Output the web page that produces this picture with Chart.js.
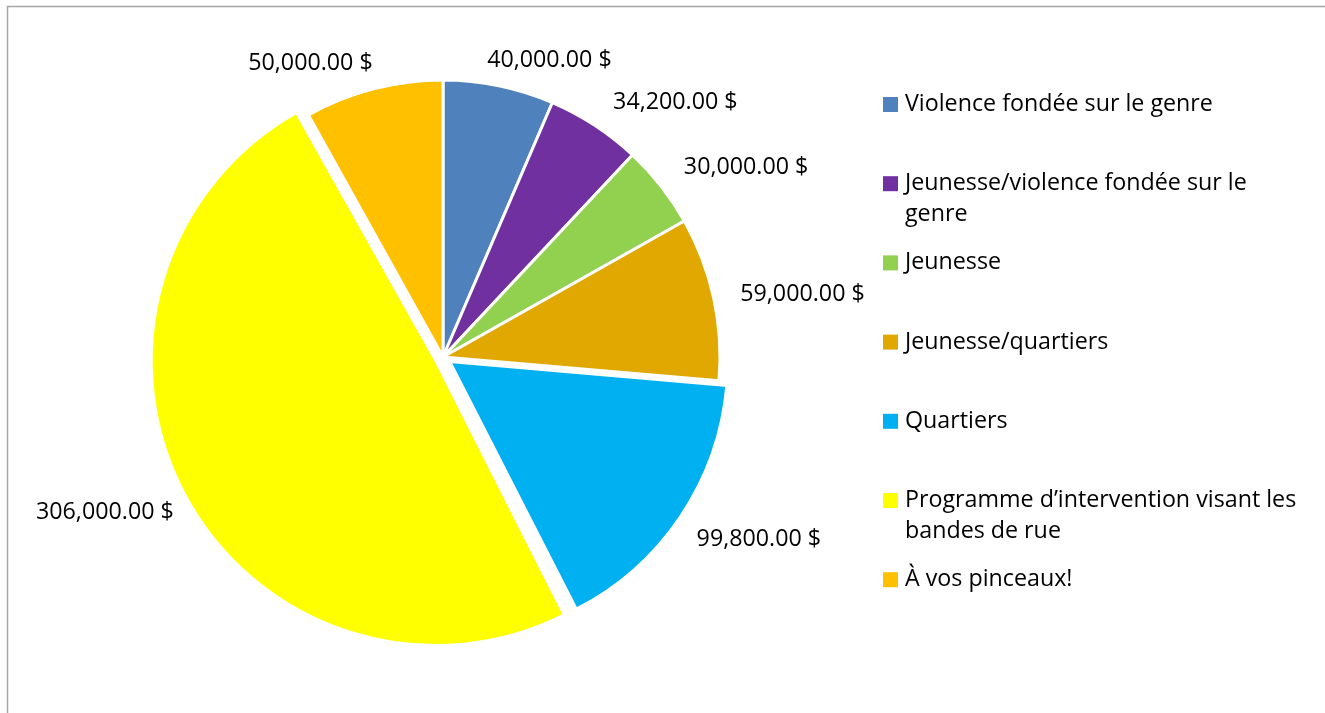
<!DOCTYPE html>
<html lang="fr">
<head>
    <meta charset="UTF-8">
    <title>Répartition des montants</title>
    <script src="https://cdn.jsdelivr.net/npm/chart.js"></script>
    <style>
        body {
            margin: 0;
            background-color: #ffffff;
        }
        #chart-container {
            width: 1325px;
            height: 713px;
        }
    </style>
</head>
<body>
    <div id="chart-container">
        <canvas id="amountsPie" width="1325" height="713"></canvas>
    </div>

    <script>
        const categories = [
            "Violence fondée sur le genre",
            "Jeunesse/violence fondée sur le genre",
            "Jeunesse",
            "Jeunesse/quartiers",
            "Quartiers",
            "Programme d’intervention visant les bandes de rue",
            "À vos pinceaux!"
        ];
        const amounts = [40000, 34200, 30000, 59000, 99800, 306000, 50000];
        const sliceColors = ["#4F81BD", "#7030A0", "#92D050", "#E0A800", "#00B0F0", "#FFFF00", "#FFC000"];
        // exploded slices
        const explode = [0, 0, 0, 0, 32, 32, 0];

        const FONT_FAMILY = '"Open Sans", Lato, sans-serif';

        function formatMoney(v) {
            return v.toLocaleString('en-US', { minimumFractionDigits: 2, maximumFractionDigits: 2 }) + ' $';
        }

        // size the font so the first legend entry is as wide as in the original (~308px)
        function fitFontSize() {
            const c = document.createElement('canvas').getContext('2d');
            c.font = '100px ' + FONT_FAMILY;
            return 100 * 308 / c.measureText(categories[0]).width;
        }
        const FONT_SIZE = fitFontSize();

        // thin grey frame of the chart object (left and top edges are visible)
        const framePlugin = {
            id: 'frame',
            beforeDraw(chart) {
                const ctx = chart.ctx;
                ctx.save();
                ctx.strokeStyle = '#a6a6a6';
                ctx.lineWidth = 1.5;
                ctx.beginPath();
                ctx.moveTo(7.5, chart.height);
                ctx.lineTo(7.5, 6.5);
                ctx.lineTo(chart.width, 6.5);
                ctx.stroke();
                ctx.restore();
            }
        };

        // value labels outside each slice
        const valueLabelsPlugin = {
            id: 'valueLabels',
            afterDatasetsDraw(chart) {
                const ctx = chart.ctx;
                const meta = chart.getDatasetMeta(0);
                const clamp = v => Math.max(-1, Math.min(1, v));
                ctx.save();
                ctx.font = FONT_SIZE + 'px ' + FONT_FAMILY;
                ctx.fillStyle = '#000000';
                ctx.textAlign = 'center';
                ctx.textBaseline = 'middle';
                meta.data.forEach((arc, i) => {
                    const p = arc.getProps(['x', 'y', 'startAngle', 'endAngle', 'outerRadius'], true);
                    const mid = (p.startAngle + p.endAngle) / 2;
                    const dx = Math.cos(mid), dy = Math.sin(mid);
                    const text = formatMoney(amounts[i]);
                    const w = ctx.measureText(text).width;
                    const h = 24;
                    const dist = p.outerRadius + 19;
                    const cx = p.x + dist * dx + clamp(dx * 3.3) * (w / 2 + 8);
                    const cy = p.y + dist * dy + clamp(dy * 2) * h / 2 + 5;
                    ctx.fillText(text, cx, cy);
                });
                ctx.restore();
            }
        };

        // legend on the right with wrapped entries
        const sideLegendPlugin = {
            id: 'sideLegend',
            afterDraw(chart) {
                const ctx = chart.ctx;
                const boxX = 883, textX = 905, maxWidth = 405;
                const firstTop = 97, pitch = 79.2, lineGap = 31;
                ctx.save();
                ctx.font = FONT_SIZE + 'px ' + FONT_FAMILY;
                ctx.textAlign = 'left';
                ctx.textBaseline = 'alphabetic';
                categories.forEach((label, i) => {
                    const top = firstTop + i * pitch;
                    ctx.fillStyle = sliceColors[i];
                    ctx.fillRect(boxX, top, 15, 15);

                    // wrap words to the legend width
                    const words = label.split(' ');
                    const lines = [];
                    let line = '';
                    words.forEach(word => {
                        const test = line ? line + ' ' + word : word;
                        if (ctx.measureText(test).width > maxWidth && line) {
                            lines.push(line);
                            line = word;
                        } else {
                            line = test;
                        }
                    });
                    lines.push(line);

                    ctx.fillStyle = '#000000';
                    lines.forEach((txt, k) => {
                        ctx.fillText(txt, textX, top + 14 + k * lineGap);
                    });
                });
                ctx.restore();
            }
        };

        const ctx = document.getElementById('amountsPie').getContext('2d');
        const pieChart = new Chart(ctx, {
            type: 'pie',
            data: {
                labels: categories,
                datasets: [{
                    data: amounts,
                    backgroundColor: sliceColors,
                    borderColor: '#ffffff',
                    borderWidth: 3,
                    offset: explode,
                    radius: 277
                }]
            },
            options: {
                responsive: false,
                animation: false,
                devicePixelRatio: 1,
                layout: {
                    padding: { left: 0, right: 439, top: 1, bottom: 0 }
                },
                plugins: {
                    legend: { display: false },
                    title: { display: false },
                    tooltip: { enabled: false }
                }
            },
            plugins: [framePlugin, valueLabelsPlugin, sideLegendPlugin]
        });
    </script>
</body>
</html>
